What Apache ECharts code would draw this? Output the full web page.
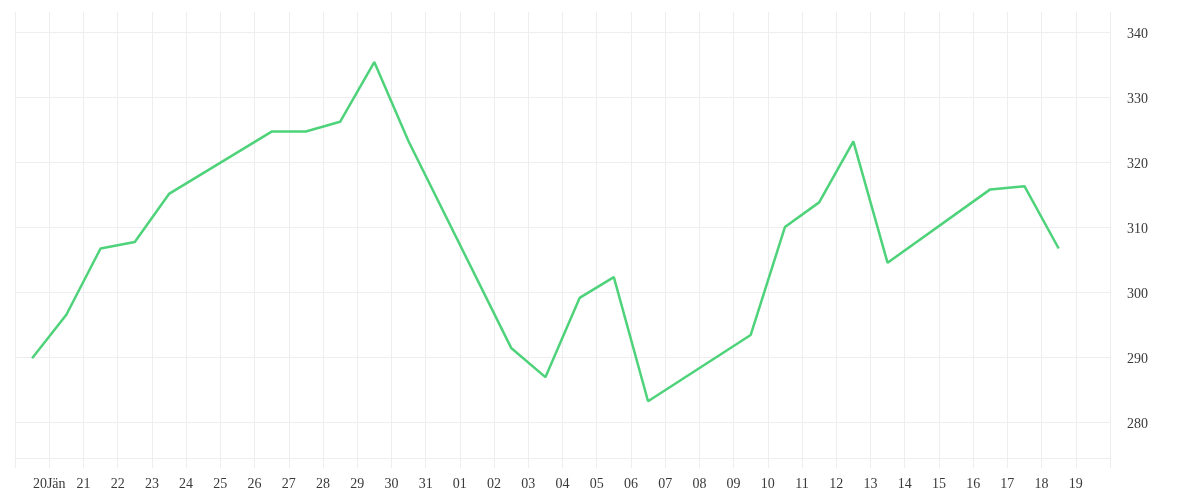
<!DOCTYPE html>
<html>
<head>
<meta charset="utf-8">
<script src="https://cdn.jsdelivr.net/npm/echarts@6/dist/echarts.min.js"></script>
<style>
html, body { margin: 0; padding: 0; background: #fff; }
#main { width: 1200px; height: 500px; }
</style>
</head>
<body>
<div id="main"></div>
<script>
// tick labels along the bottom, one per day boundary (first and last left empty)
var dayLabels = ['', '20Jän', '21', '22', '23', '24', '25', '26', '27', '28', '29', '30', '31',
  '01', '02', '03', '04', '05', '06', '07', '08', '09', '10', '11', '12', '13', '14', '15',
  '16', '17', '18', '19', ''];
// trading days (index of the day, point drawn in the middle of it)
var dayIndex = [0, 1, 2, 3, 4, 7, 8, 9, 10, 11, 14, 15, 16, 17, 18, 21, 22, 23, 24, 25, 28, 29, 30];
var closeValues = [289.8, 296.5, 306.7, 307.7, 315.1, 324.7, 324.7, 326.2, 335.4, 323.2,
  291.4, 286.9, 299.1, 302.3, 283.2, 293.4, 310.0, 313.8, 323.2, 304.5, 315.8, 316.3, 306.7];
var yTicks = [280, 290, 300, 310, 320, 330, 340];

var chart = echarts.init(document.getElementById('main'));

var pts = dayIndex.map(function (d, i) {
  return [d + 0.5, closeValues[i]];
});

var gridColor = '#eeeeee';
var labelFont = 'Liberation Serif';

chart.setOption({
  animation: false,
  grid: { left: 15, right: 90, top: 12, bottom: 42 },
  xAxis: {
    type: 'value',
    min: 0,
    max: 32,
    interval: 1,
    axisLine: { show: true, lineStyle: { color: gridColor, width: 1 } },
    axisTick: { show: true, length: 10, lineStyle: { color: gridColor } },
    splitLine: { show: true, lineStyle: { color: gridColor, width: 1 } },
    axisLabel: {
      margin: 19,
      color: '#3a3a3a',
      fontFamily: labelFont,
      fontSize: 14,
      showMinLabel: true,
      showMaxLabel: true,
      formatter: function (v) {
        return dayLabels[Math.round(v)] || '';
      }
    }
  },
  yAxis: {
    type: 'value',
    position: 'right',
    min: 274.46,
    max: 343.1,
    axisLine: { show: false },
    axisTick: { show: false, customValues: yTicks },
    splitLine: { show: true, lineStyle: { color: gridColor, width: 1 } },
    axisLabel: {
      margin: 17,
      color: '#3a3a3a',
      fontFamily: labelFont,
      fontSize: 14,
      customValues: yTicks,
      formatter: function (v) {
        return '{v|' + v + '}';
      },
      rich: {
        v: {
          color: '#3a3a3a',
          fontFamily: labelFont,
          fontSize: 14,
          padding: [5, 0, 0, 0]
        }
      }
    }
  },
  series: [{
    type: 'line',
    data: pts,
    showSymbol: false,
    lineStyle: { color: '#4ed27a', width: 2.5 },
    itemStyle: { color: '#4ed27a' }
  }]
});
</script>
</body>
</html>
